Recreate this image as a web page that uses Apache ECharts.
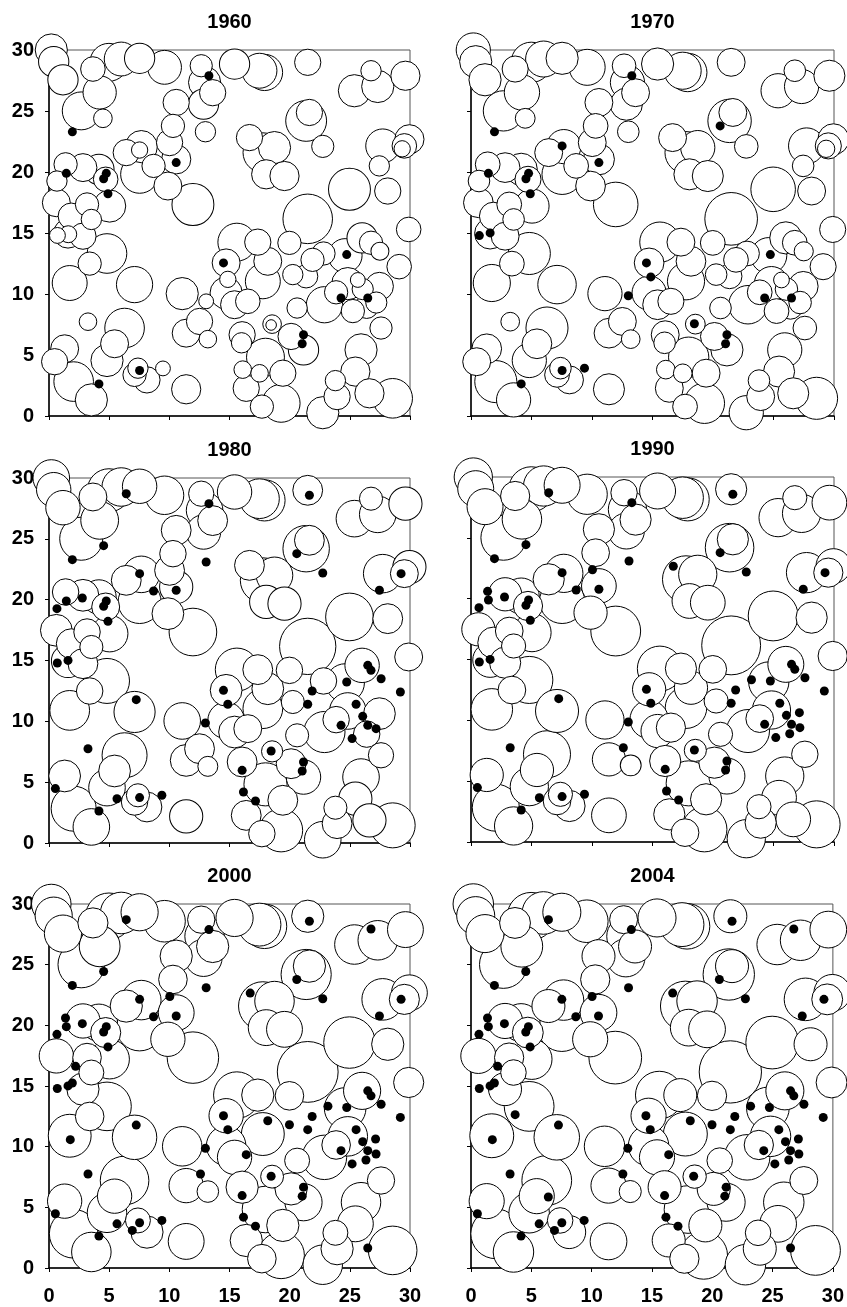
<!DOCTYPE html>
<html><head><meta charset="utf-8">
<script src="https://cdn.jsdelivr.net/npm/echarts@6/dist/echarts.min.js"></script>
<style>html,body{margin:0;padding:0;background:#fff}#c{width:847px;height:1307px}</style>
</head><body><div id="c"></div>
<script>
// Panels (census years)
const years = ['1960', '1970', '1980', '1990', '2000', '2004'];
// Axis ticks (metres)
const tickValues = [0, 5, 10, 15, 20, 25, 30];

// Living trees: crown centre x, y, crown radius (m), index of last panel where the tree is alive
const treeX = [0.19,0.39,1.16,2.68,4.21,3.65,4.98,6.0,7.53,9.6,12.65,12.93,13.6,12.84,10.57,10.3,10.02,10.57,7.67,6.42,7.53,9.88,11.96,15.42,17.91,17.49,21.5,25.38,27.32,26.76,29.62,21.37,21.64,16.66,17.77,18.74,18.05,19.57,27.73,29.53,29.95,24.97,28.15,21.5,29.89,19.98,15.61,17.35,14.72,17.77,18.18,14.72,15.42,16.52,11.07,11.4,12.51,13.2,16.05,17.99,19.43,21.15,20.12,18.54,16.39,17.69,19.29,22.75,23.94,23.8,25.46,26.63,28.56,25.93,27.59,26.4,27.46,24.83,22.89,20.62,23.86,24.61,22.81,26.02,20.26,21.37,
  1.38,2.82,4.15,4.71,5.04,3.16,0.61,1.85,3.52,1.58,2.82,0.7,4.82,3.38,1.72,7.11,1.3,2.05,3.52,4.82,6.28,5.45,7.11,8.14,7.39,11.4,
  29.1,3.24,9.47,4.48,7.53,18.46,29.35,22.75,14.86,13.06,16.1,17.5,21.9,25.66,26.76,27.5,26.07,25.25,1.6,27.2,13.0,8.69,0.66,16.0,0.47,27.45];
const treeY = [30.0,29.04,27.56,25.01,26.52,28.44,28.99,29.26,29.32,28.58,28.71,27.34,26.5,25.56,25.7,23.78,22.41,21.04,22.08,21.59,19.81,18.85,17.34,28.85,28.16,28.3,28.99,26.66,27.01,28.3,27.89,24.19,24.88,22.82,21.59,22.0,19.81,19.67,22.14,22.14,22.68,18.58,18.44,16.16,15.29,14.19,14.25,14.25,12.55,11.04,12.68,10.08,9.12,9.4,10.03,6.79,7.75,6.3,6.66,4.82,3.51,5.42,6.52,7.53,2.27,0.77,1.04,0.27,1.59,2.9,3.64,1.86,1.45,5.42,7.21,8.95,10.63,10.85,9.12,8.85,10.14,13.15,13.32,14.6,11.59,11.45,
  20.63,20.36,20.22,19.4,17.21,17.34,17.48,16.38,16.11,14.96,14.74,14.8,13.32,12.49,10.9,10.77,5.51,2.82,1.32,4.55,7.21,5.92,3.37,2.96,3.92,2.19,
  12.24,7.73,3.9,24.4,21.8,7.46,21.9,22.1,11.2,9.4,3.8,3.5,12.8,11.15,14.2,13.5,10.4,8.6,14.9,9.3,23.3,20.5,19.26,6.0,4.45,20.5];
const treeR = [1.52,1.43,1.43,1.79,1.57,1.16,1.79,1.6,1.43,1.6,1.05,1.52,1.24,1.43,1.24,1.1,1.24,1.38,1.52,1.24,1.79,1.32,1.98,1.43,1.71,1.65,1.24,1.52,1.52,0.96,1.38,1.93,1.24,1.24,1.87,1.52,1.38,1.38,1.6,1.16,1.38,1.98,1.24,2.34,1.16,1.1,1.79,1.24,1.32,1.65,1.32,1.52,1.32,1.16,1.52,1.32,1.24,0.83,1.24,1.79,1.24,1.43,1.24,0.88,1.24,1.1,1.79,1.52,1.24,0.96,1.38,1.38,1.87,1.52,1.05,1.1,1.32,1.52,1.71,0.96,1.1,1.6,1.1,1.43,0.96,1.1,
  1.1,1.32,1.43,1.16,1.52,1.1,1.32,1.24,0.96,1.38,1.24,0.75,1.87,1.1,1.65,1.71,1.32,1.87,1.52,1.52,1.87,1.32,1.1,1.24,0.96,1.38,
  1.16,0.83,0.7,0.88,0.77,0.5,0.77,1.05,0.77,0.7,0.83,0.83,1.1,0.7,1.1,0.85,1.0,1.1,0.8,1.0,0.96,1.1,0.96,0.96,1.24,0.96];
const treeLast = [5,5,5,5,5,5,5,5,5,5,5,5,5,5,5,5,2,5,5,5,5,5,5,5,5,5,5,5,5,3,5,5,5,2,5,5,5,5,5,5,5,5,5,5,5,5,5,5,5,5,3,5,5,3,5,5,2,5,5,5,5,5,5,5,5,5,5,5,5,5,5,3,5,5,5,2,2,5,5,5,5,5,2,5,3,1,
  2,5,5,5,5,5,5,3,5,3,5,0,5,4,5,5,5,5,5,5,5,5,3,5,5,5,
  1,1,0,1,0,0,1,1,0,0,1,1,1,1,1,1,1,1,0,1,1,1,1,1,1,1];

// Dead trees: position and index of the first panel in which they are shown as dead
const deadX = [1.94,1.44,4.54,4.76,4.9,13.29,10.57,14.5,4.15,7.53,24.74,24.27,26.49,21.15,21.04,
  20.59,7.53,0.69,1.58,14.86,13.0,18.46,9.38,
  6.42,21.64,4.54,22.75,13.06,29.26,27.46,8.69,2.77,0.66,7.25,21.87,21.5,26.49,26.76,27.6,29.2,25.52,26.07,27.18,25.19,16.05,16.16,17.16,3.24,0.53,5.65,
  16.72,10.04,1.37,23.18,27.14,26.34,12.59,
  26.76,2.21,1.94,1.77,18.18,19.98,16.39,6.92,26.49,
  3.66,6.41];
const deadY = [23.29,19.89,19.45,19.89,18.22,27.89,20.77,12.55,2.63,3.73,13.23,9.67,9.67,6.66,5.92,
  23.78,22.14,14.79,15.01,11.4,9.86,7.56,3.92,
  28.71,28.58,24.44,22.19,23.1,22.14,20.77,20.71,20.14,19.26,11.78,12.49,11.4,14.6,14.19,13.5,12.41,11.4,10.41,9.4,8.58,5.97,4.19,3.45,7.75,4.47,3.64,
  22.66,22.38,20.6,13.34,10.63,8.9,7.75,
  27.94,16.62,15.25,10.58,12.14,11.81,9.34,3.1,1.65,
  12.64,5.85];
const deadFrom = [0,0,0,0,0,0,0,0,0,0,0,0,0,0,0,
  1,1,1,1,1,1,1,1,
  2,2,2,2,2,2,2,2,2,2,2,2,2,2,2,2,2,2,2,2,2,2,2,2,2,2,2,
  3,3,3,3,3,3,3,
  4,4,4,4,4,4,4,4,4,
  5,5];

// ---- layout / style ----
const crownScale = [0.88, 0.93, 1.0, 1.04, 1.08, 1.1];
const grids = [
  {left: 49, top: 50, width: 361, height: 366},
  {left: 471, top: 50, width: 363, height: 366},
  {left: 49, top: 478, width: 361, height: 365},
  {left: 471, top: 477, width: 363, height: 365},
  {left: 49, top: 904, width: 361, height: 364},
  {left: 471, top: 904, width: 363, height: 364}
];
const FONT = 'Liberation Sans, Arial, sans-serif';

const option = {
  animation: false,
  backgroundColor: '#fff',
  grid: grids.map(g => Object.assign({show: true, borderColor: '#555', borderWidth: 1, backgroundColor: 'transparent'}, g)),
  xAxis: grids.map((g, i) => ({
    gridIndex: i, type: 'value', min: tickValues[0], max: tickValues[tickValues.length - 1],
    interval: tickValues[1] - tickValues[0],
    axisLine: {show: true, onZero: false, lineStyle: {color: '#000', width: 1.5}},
    axisTick: {show: true, inside: false, length: 4, lineStyle: {color: '#000', width: 1}},
    axisLabel: {show: i >= 4, margin: 18, color: '#000', fontFamily: FONT, fontWeight: 'bold', fontSize: 20},
    splitLine: {show: false}
  })),
  yAxis: grids.map((g, i) => ({
    gridIndex: i, type: 'value', min: tickValues[0], max: tickValues[tickValues.length - 1],
    interval: tickValues[1] - tickValues[0],
    axisLine: {show: true, onZero: false, lineStyle: {color: '#000', width: 1.5}},
    axisTick: {show: true, inside: false, length: 4, lineStyle: {color: '#000', width: 1}},
    axisLabel: {show: i % 2 === 0, margin: 15, color: '#000', fontFamily: FONT, fontWeight: 'bold', fontSize: 20},
    splitLine: {show: false}
  })),
  graphic: grids.map((g, i) => ({
    type: 'text', x: g.left + g.width / 2, y: g.top - 28, silent: true,
    style: {text: years[i], fill: '#000', font: 'bold 20px ' + FONT, textAlign: 'center', textVerticalAlign: 'middle'}
  })),
  series: []
};

grids.forEach((g, p) => {
  const pxPerUnit = g.width / 30;
  const crowns = [];
  treeX.forEach((x, k) => {
    if (treeLast[k] >= p) crowns.push([x, treeY[k], treeR[k]]);
  });
  crowns.sort((a, b) => b[2] - a[2]);
  const dead = [];
  deadX.forEach((x, k) => {
    if (deadFrom[k] <= p) dead.push([x, deadY[k]]);
  });
  option.series.push({
    type: 'scatter', xAxisIndex: p, yAxisIndex: p, clip: false, silent: true, z: 2,
    symbol: 'circle', data: crowns,
    symbolSize: v => 2 * v[2] * pxPerUnit * crownScale[p],
    itemStyle: {color: '#fff', borderColor: '#000', borderWidth: 1, opacity: 1}
  });
  option.series.push({
    type: 'scatter', xAxisIndex: p, yAxisIndex: p, clip: false, silent: true, z: 3,
    symbol: 'circle', data: dead, symbolSize: 9,
    itemStyle: {color: '#000', borderWidth: 0, opacity: 1}
  });
});

const chart = echarts.init(document.getElementById('c'), null, {renderer: 'canvas'});
chart.setOption(option);
</script>
</body></html>
